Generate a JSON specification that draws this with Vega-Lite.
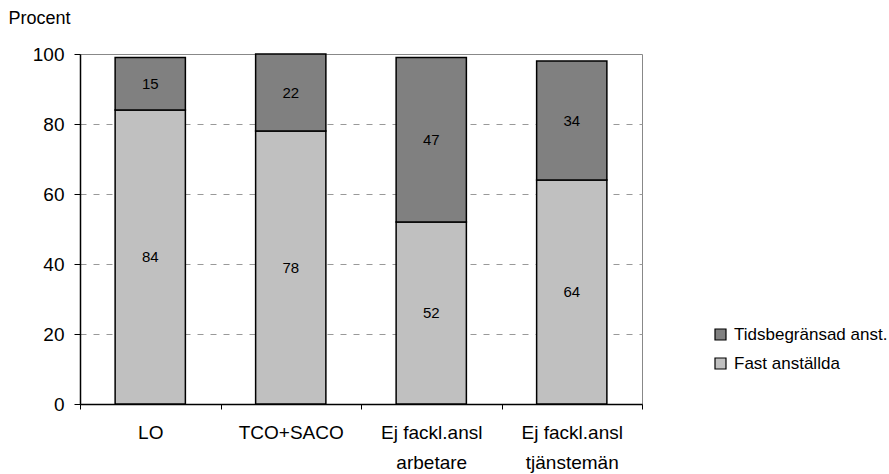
{
  "$schema": "https://vega.github.io/schema/vega-lite/v6.json",
  "autosize": {"type": "none"},
  "width": 562,
  "height": 350,
  "padding": {"left": 80, "top": 54, "right": 247, "bottom": 70},
  "background": "white",
  "config": {
    "font": "Liberation Sans",
    "view": {"stroke": "#888888", "strokeWidth": 1}
  },
  "data": {
    "values": [
      {"grupp": "LO", "typ": "Fast anställda", "varde": 84},
      {"grupp": "LO", "typ": "Tidsbegränsad anst.", "varde": 15},
      {"grupp": "TCO+SACO", "typ": "Fast anställda", "varde": 78},
      {"grupp": "TCO+SACO", "typ": "Tidsbegränsad anst.", "varde": 22},
      {"grupp": "Ej fackl.ansl arbetare", "typ": "Fast anställda", "varde": 52},
      {"grupp": "Ej fackl.ansl arbetare", "typ": "Tidsbegränsad anst.", "varde": 47},
      {"grupp": "Ej fackl.ansl tjänstemän", "typ": "Fast anställda", "varde": 64},
      {"grupp": "Ej fackl.ansl tjänstemän", "typ": "Tidsbegränsad anst.", "varde": 34}
    ]
  },
  "transform": [
    {"stack": "varde", "groupby": ["grupp"], "sort": [{"field": "typ", "order": "ascending"}], "as": ["y0", "y1"]},
    {"calculate": "(datum.y0 + datum.y1) / 2", "as": "ymid"}
  ],
  "encoding": {
    "x": {
      "field": "grupp",
      "type": "nominal",
      "sort": ["LO", "TCO+SACO", "Ej fackl.ansl arbetare", "Ej fackl.ansl tjänstemän"],
      "scale": {"paddingInner": 0, "paddingOuter": 0},
      "axis": {
        "title": null,
        "labelAngle": 0,
        "labelExpr": "indexof(datum.label, 'Ej') == 0 ? ['Ej fackl.ansl', substring(datum.label, 14)] : datum.label",
        "labelFontSize": 19,
        "labelColor": "black",
        "labelLineHeight": 30,
        "labelPadding": 14,
        "labelBaseline": "top",
        "tickBand": "extent",
        "tickSize": 5,
        "tickColor": "black",
        "domainColor": "black",
        "domainWidth": 1.5,
        "grid": false
      }
    }
  },
  "layer": [
    {
      "mark": {"type": "bar", "stroke": "black", "strokeWidth": 1.5, "width": {"band": 0.5}},
      "encoding": {
        "y": {
          "field": "y0",
          "type": "quantitative",
          "scale": {"domain": [0, 100], "nice": false},
          "axis": {
            "title": "Procent",
            "titleAngle": 0,
            "titleX": -72,
            "titleY": -36,
            "titleAlign": "left",
            "titleBaseline": "middle",
            "titleFontSize": 18,
            "titleFontWeight": "normal",
            "titleColor": "black",
            "values": [0, 10, 20, 30, 40, 50, 60, 70, 80, 90, 100],
            "labelExpr": "datum.value % 20 == 0 ? datum.label : ''",
            "labelFontSize": 19,
            "labelColor": "black",
            "labelPadding": 10,
            "tickSize": {"condition": {"test": "datum.value % 20 == 0", "value": 6}, "value": 4},
            "tickColor": "black",
            "domainColor": "black",
            "domainWidth": 1.5,
            "grid": true,
            "gridColor": "#999999",
            "gridDash": [6, 7],
            "gridOpacity": {"condition": {"test": "datum.value % 20 == 0 && datum.value > 0 && datum.value < 100", "value": 1}, "value": 0}
          }
        },
        "y2": {"field": "y1"},
        "color": {
          "field": "typ",
          "type": "nominal",
          "scale": {"domain": ["Tidsbegränsad anst.", "Fast anställda"], "range": ["#808080", "#C0C0C0"]},
          "legend": {
            "title": null,
            "orient": "none",
            "legendX": 632,
            "legendY": 272,
            "symbolType": "square",
            "symbolSize": 121,
            "symbolStrokeColor": "black",
            "symbolStrokeWidth": 1.2,
            "labelFontSize": 17,
            "labelLimit": 0,
            "labelColor": "black",
            "rowPadding": 11,
            "labelOffset": 5
          }
        }
      }
    },
    {
      "mark": {"type": "text", "fontSize": 15, "color": "black"},
      "encoding": {
        "y": {"field": "ymid", "type": "quantitative"},
        "text": {"field": "varde", "type": "quantitative"}
      }
    }
  ]
}
